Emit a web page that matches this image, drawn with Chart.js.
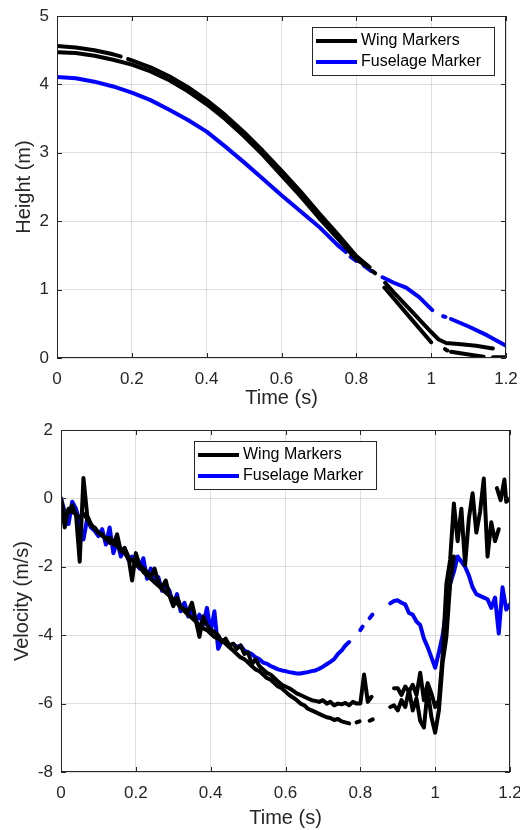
<!DOCTYPE html>
<html>
<head>
<meta charset="utf-8">
<script src="https://cdn.jsdelivr.net/npm/chart.js@4.4.0/dist/chart.umd.min.js"></script>
<style>
  html, body { margin: 0; padding: 0; background: #fff; }
  #wrap { position: relative; width: 520px; height: 830px; }
  canvas { position: absolute; left: 0; }
</style>
</head>
<body>
<div id="wrap">
  <canvas id="heightChart" width="520" height="410" style="top:0"></canvas>
  <canvas id="velocityChart" width="520" height="420" style="top:410px"></canvas>
</div>
<script>
// ---- height vs time (top panel) ----
const tHtWingA = [0, 0.05, 0.1, 0.15, 0.17, 0.178, 0.19, 0.2, 0.25, 0.3, 0.35, 0.4, 0.45, 0.5, 0.55, 0.6, 0.65, 0.7, 0.75, 0.8,
  0.835, 0.84, 0.843, 0.85, 0.86, 0.877, 0.9, 0.95, 1.0, 1.02, 1.04, 1.08, 1.12, 1.165];
const hWingA = [4.56, 4.54, 4.50, 4.44, 4.41, null, 4.37, 4.35, 4.25, 4.12, 3.96, 3.77, 3.55, 3.30, 3.03, 2.74, 2.44, 2.12, 1.81, 1.49,
  1.33, null, 1.27, 1.24, null, 1.10, 0.96, 0.67, 0.38, 0.27, 0.22, 0.20, 0.18, 0.14];

const tHtWingB = [0, 0.05, 0.1, 0.15, 0.2, 0.25, 0.3, 0.35, 0.4, 0.45, 0.5, 0.55, 0.6, 0.65, 0.7, 0.75, 0.8, 0.835,
  0.85, 0.875, 0.9, 0.95, 1.0, 1.02, 1.037, 1.043, 1.048, 1.053, 1.1, 1.14, 1.15, 1.165, 1.2];
const hWingB = [4.47, 4.46, 4.42, 4.36, 4.29, 4.19, 4.06, 3.90, 3.71, 3.49, 3.24, 2.97, 2.67, 2.37, 2.05, 1.75, 1.44, 1.32,
  null, 1.03, 0.87, 0.55, 0.23, null, 0.13, 0.11, null, 0.09, 0.05, 0.02, null, 0.01, 0.01];

const tHtFuse = [0, 0.05, 0.1, 0.15, 0.2, 0.25, 0.3, 0.35, 0.4, 0.45, 0.5, 0.55, 0.6, 0.65, 0.7, 0.75,
  0.772, 0.778, 0.785, 0.80, 0.81, 0.82, 0.84, 0.855, 0.87, 0.9, 0.933, 0.968, 1.003, 1.02, 1.032, 1.038, 1.045, 1.053, 1.1, 1.15, 1.2];
const hFuse = [4.11, 4.09, 4.04, 3.97, 3.88, 3.77, 3.63, 3.48, 3.31, 3.09, 2.86, 2.62, 2.38, 2.15, 1.92, 1.65,
  1.55, null, 1.48, 1.42, null, 1.35, 1.27, null, 1.18, 1.10, 1.03, 0.89, 0.70, null, 0.61, 0.60, null, 0.57, 0.46, 0.33, 0.18];

// ---- velocity vs time (bottom panel) ----
const tVelWingA = [
  0.00, 0.01, 0.02, 0.03, 0.04, 0.05, 0.06, 0.07, 0.08, 0.09,
  0.10, 0.11, 0.12, 0.13, 0.14, 0.15, 0.16, 0.17, 0.18, 0.19,
  0.20, 0.21, 0.22, 0.23, 0.24, 0.25, 0.26, 0.27, 0.28, 0.29,
  0.30, 0.31, 0.32, 0.33, 0.34, 0.35, 0.36, 0.37, 0.38, 0.39,
  0.40, 0.41, 0.42, 0.43, 0.44, 0.45, 0.46, 0.47, 0.48, 0.49,
  0.50, 0.51, 0.52, 0.53, 0.54, 0.55, 0.56, 0.57, 0.58, 0.59,
  0.60, 0.61, 0.62, 0.63, 0.64, 0.65, 0.66, 0.67, 0.68, 0.69,
  0.70, 0.71, 0.72, 0.73, 0.74, 0.75, 0.76, 0.77, 0.78, 0.79,
  0.80, 0.81, 0.82, 0.83,
  0.86,
  0.89, 0.90, 0.91, 0.92, 0.93, 0.94, 0.95, 0.96, 0.97, 0.98,
  0.99, 1.00, 1.01, 1.02, 1.03, 1.04, 1.05, 1.06, 1.07, 1.08,
  1.09, 1.10, 1.11, 1.12, 1.13, 1.14, 1.15, 1.16, 1.17];
const vWingA = [
  0.00, -0.85, -0.30, -0.40, -0.45, -1.85, 0.60, -0.50, -0.75, -0.90,
  -1.00, -1.05, -1.20, -1.15, -1.35, -1.05, -1.55, -1.45, -1.70, -2.40,
  -1.60, -1.95, -2.05, -2.15, -2.30, -2.05, -2.45, -2.60, -2.40, -2.85,
  -3.15, -2.90, -3.15, -3.25, -3.30, -3.05, -3.55, -4.05, -3.45, -3.70,
  -3.85, -3.90, -4.00, -4.20, -4.10, -4.30, -4.25, -4.40, -4.30, -4.55,
  -4.50, -4.85, -4.70, -4.90, -5.00, -5.10, -5.15, -5.25, -5.35, -5.45,
  -5.50, -5.55, -5.62, -5.70, -5.75, -5.80, -5.85, -5.90, -5.92, -5.95,
  -5.90, -6.00, -5.95, -6.05, -6.00, -6.02, -5.98, -6.05, -5.95, -6.00,
  -6.00, -5.15, -5.95, -5.80,
  null,
  -5.55, -5.55, -5.75, -5.50, -5.65, -5.45, -5.75, -5.10, -5.90, -5.40,
  -5.70, -6.10, -5.90, -4.60, -2.50, -1.80, -0.15, -1.25, -0.30, -1.95,
  -0.60, 0.15, -1.00, -0.40, 0.58, -1.70, -0.70, -1.25, -0.90];

const tVelWingB = [
  0.00, 0.01, 0.02, 0.03, 0.04, 0.05, 0.06, 0.07, 0.08, 0.09,
  0.10, 0.11, 0.12, 0.13, 0.14, 0.15, 0.16, 0.17, 0.18, 0.19,
  0.20, 0.21, 0.22, 0.23, 0.24, 0.25, 0.26, 0.27, 0.28, 0.29,
  0.30, 0.31, 0.32, 0.33, 0.34, 0.35, 0.36, 0.37, 0.38, 0.39,
  0.40, 0.41, 0.42, 0.43, 0.44, 0.45, 0.46, 0.47, 0.48, 0.49,
  0.50, 0.51, 0.52, 0.53, 0.54, 0.55, 0.56, 0.57, 0.58, 0.59,
  0.60, 0.61, 0.62, 0.63, 0.64, 0.65, 0.66, 0.67, 0.68, 0.69,
  0.70, 0.71, 0.72, 0.73, 0.74, 0.75, 0.76, 0.77,
  0.78, 0.79, 0.798, 0.81, 0.825, 0.833, 0.85,
  0.88, 0.89, 0.90, 0.91, 0.92, 0.93, 0.94, 0.95, 0.96, 0.97,
  0.98, 0.99, 1.00, 1.01, 1.02, 1.03, 1.04, 1.05,
  1.10, 1.165, 1.175, 1.185, 1.19, 1.20];
const vWingB = [
  -0.05, -0.50, -0.40, -0.20, -0.50, -0.55, -0.45, -0.60, -0.80, -0.85,
  -1.00, -1.10, -1.15, -1.30, -1.25, -1.40, -1.50, -1.60, -1.75, -1.80,
  -1.95, -2.00, -2.15, -2.25, -2.35, -2.45, -2.55, -2.65, -2.75, -2.85,
  -2.95, -3.05, -3.20, -3.30, -3.40, -3.50, -3.60, -3.70, -3.80, -3.85,
  -3.95, -4.05, -4.10, -4.15, -4.25, -4.35, -4.45, -4.55, -4.65, -4.70,
  -4.80, -4.90, -5.00, -5.05, -5.15, -5.25, -5.30, -5.40, -5.50, -5.55,
  -5.65, -5.75, -5.82, -5.90, -6.00, -6.05, -6.15, -6.20, -6.25, -6.30,
  -6.35, -6.40, -6.42, -6.48, -6.45, -6.52, -6.55, -6.58,
  null, -6.55, -6.52, null, -6.50, -6.46, null,
  -6.10, -6.05, -6.20, -5.90, -6.10, -5.60, -6.20, -5.85, -6.50, -6.70,
  -5.60, -6.40, -6.85, -6.20, -4.80, -4.05, -2.50, -1.70,
  null, 0.30, -0.05, 0.55, -0.10, 0.00];

const tVelFuse = [
  0.00, 0.01, 0.02, 0.03, 0.04, 0.05, 0.06, 0.07, 0.08, 0.09,
  0.10, 0.11, 0.12, 0.13, 0.14, 0.15, 0.16, 0.17, 0.18, 0.19,
  0.20, 0.21, 0.22, 0.23, 0.24, 0.25, 0.26, 0.27, 0.28, 0.29,
  0.30, 0.31, 0.32, 0.33, 0.34, 0.35, 0.36, 0.37, 0.38, 0.39,
  0.40, 0.41, 0.42, 0.43, 0.44, 0.45, 0.46, 0.47, 0.48, 0.49,
  0.50, 0.51, 0.52, 0.53, 0.54, 0.55, 0.56, 0.57, 0.58, 0.59,
  0.60, 0.61, 0.62, 0.63, 0.64, 0.65, 0.66, 0.67, 0.68, 0.69,
  0.70, 0.71, 0.72, 0.73, 0.74, 0.75, 0.76, 0.77,
  0.785, 0.80, 0.806, 0.815, 0.825, 0.832, 0.85,
  0.88, 0.89, 0.90, 0.91, 0.92, 0.93, 0.94, 0.95, 0.96, 0.97,
  0.98, 0.99, 1.00, 1.01, 1.02, 1.03, 1.04, 1.05, 1.06, 1.07,
  1.08, 1.09, 1.10, 1.11, 1.12, 1.13, 1.14, 1.15, 1.16, 1.17,
  1.18, 1.19, 1.20];
const vFuse = [
  0.00, -0.40, -0.75, -0.10, -0.30, -0.70, -1.20, -0.60, -0.85, -0.95,
  -1.10, -0.90, -1.35, -0.85, -1.60, -1.25, -1.70, -1.45, -1.80, -1.70,
  -1.90, -2.05, -1.75, -2.35, -2.05, -2.45, -2.30, -2.70, -2.55, -2.70,
  -3.10, -2.80, -3.30, -3.05, -3.45, -3.25, -3.60, -3.40, -3.70, -3.20,
  -3.90, -3.30, -4.40, -4.15, -4.20, -4.30, -4.25, -4.35, -4.30, -4.45,
  -4.50, -4.55, -4.65, -4.70, -4.80, -4.83, -4.90, -4.95, -5.00, -5.03,
  -5.05, -5.08, -5.10, -5.12, -5.12, -5.10, -5.08, -5.05, -5.03, -4.98,
  -4.92, -4.85, -4.78, -4.70, -4.55, -4.45, -4.30, -4.20,
  null, -3.85, -3.75, null, -3.50, -3.40, null,
  -3.07, -3.00, -2.98, -3.05, -3.10, -3.35, -3.40, -3.60, -3.70, -4.10,
  -4.35, -4.65, -4.95, -4.50, -4.00, -3.20, -2.50, -2.15, -1.70, -1.85,
  -2.00, -2.25, -2.60, -2.80, -2.85, -2.90, -2.95, -3.20, -2.90, -3.95,
  -2.60, -3.25, -3.10];

const legendLabels = ['Wing Markers', 'Fuselage Marker'];
const legendSource = [0, 2];

const FONT = "'Liberation Sans', Arial, sans-serif";
const INK = '#262626';
const GRID = 'rgba(38,38,38,0.15)';

function lineSet(label, ts, vs, color) {
  return {
    label: label,
    data: ts.map((t, i) => ({ x: t, y: vs[i] })),
    borderColor: color,
    backgroundColor: color,
    borderWidth: 4,
    pointRadius: 0,
    tension: 0,
    spanGaps: false,
    borderCapStyle: 'round',
    borderJoinStyle: 'round'
  };
}

// box round the plot with small inward ticks, like matlab
const axisBox = {
  id: 'axisBox',
  afterDatasetsDraw(chart) {
    const { ctx, chartArea: a, scales } = chart;
    ctx.save();
    ctx.strokeStyle = INK;
    ctx.lineWidth = 1;
    ctx.strokeRect(a.left + 0.5, a.top + 0.5, a.right - a.left - 1, a.bottom - a.top - 1);
    ctx.beginPath();
    scales.x.ticks.forEach(t => {
      const px = Math.round(scales.x.getPixelForValue(t.value)) + 0.5;
      ctx.moveTo(px, a.bottom); ctx.lineTo(px, a.bottom - 5);
      ctx.moveTo(px, a.top); ctx.lineTo(px, a.top + 5);
    });
    scales.y.ticks.forEach(t => {
      const py = Math.round(scales.y.getPixelForValue(t.value)) + 0.5;
      ctx.moveTo(a.left, py); ctx.lineTo(a.left + 5, py);
      ctx.moveTo(a.right, py); ctx.lineTo(a.right - 5, py);
    });
    ctx.stroke();
    ctx.restore();
  }
};

const boxLegend = {
  id: 'boxLegend',
  afterDraw(chart, args, opts) {
    const { ctx, chartArea: a } = chart;
    const w = 182, h = 48;
    const left = opts.anchor === 'right' ? a.right - opts.dx - w : a.left + opts.dx;
    const top = a.top + opts.dy;
    ctx.save();
    ctx.fillStyle = '#fff';
    ctx.fillRect(left, top, w, h);
    ctx.strokeStyle = INK;
    ctx.lineWidth = 1;
    ctx.strokeRect(left + 0.5, top + 0.5, w, h);
    legendLabels.forEach((txt, i) => {
      const ds = chart.data.datasets[legendSource[i]];
      const y = top + 14 + i * 21;
      ctx.strokeStyle = ds.borderColor;
      ctx.lineWidth = 4;
      ctx.beginPath();
      ctx.moveTo(left + 4, y);
      ctx.lineTo(left + 45, y);
      ctx.stroke();
      ctx.fillStyle = '#000';
      ctx.font = '16px ' + FONT;
      ctx.textAlign = 'left';
      ctx.textBaseline = 'middle';
      ctx.fillText(txt, left + 49, y);
    });
    ctx.restore();
  }
};

function makeChart(id, datasets, cfg) {
  return new Chart(document.getElementById(id), {
    type: 'line',
    data: { datasets: datasets },
    options: {
      responsive: false,
      animation: false,
      layout: { padding: cfg.padding },
      plugins: {
        legend: { display: false },
        tooltip: { enabled: false },
        boxLegend: cfg.legend
      },
      scales: {
        x: {
          type: 'linear', min: 0, max: 1.2,
          grid: { color: GRID, drawTicks: false },
          border: { display: false },
          ticks: {
            stepSize: 0.2, padding: 11, color: INK,
            font: { family: FONT, size: 17 },
            callback: v => String(Math.round(v * 10) / 10)
          },
          title: { display: true, text: 'Time (s)', color: INK, font: { family: FONT, size: 20 }, padding: { top: 0, bottom: 0 } },
          afterFit: s => { s.height = cfg.xHeight; s.paddingLeft = 0; s.paddingRight = 0; }
        },
        y: {
          type: 'linear', min: cfg.yMin, max: cfg.yMax,
          grid: { color: GRID, drawTicks: false },
          border: { display: false },
          ticks: {
            stepSize: cfg.yStep, padding: 8, color: INK,
            font: { family: FONT, size: 17 }
          },
          title: { display: true, text: cfg.yTitle, color: INK, font: { family: FONT, size: 20 }, padding: { top: cfg.yTitlePad, bottom: 0 } },
          afterFit: s => { s.width = cfg.yWidth; s.paddingTop = 0; s.paddingBottom = 0; }
        }
      }
    },
    plugins: [axisBox, boxLegend]
  });
}

makeChart('heightChart', [
  lineSet('Wing Markers', tHtWingA, hWingA, '#000000'),
  lineSet('Wing Markers', tHtWingB, hWingB, '#000000'),
  lineSet('Fuselage Marker', tHtFuse, hFuse, '#0000ff')
], {
  padding: { left: 0, right: 14, top: 16, bottom: 0 },
  xHeight: 52, yWidth: 57,
  yMin: 0, yMax: 5, yStep: 1, yTitle: 'Height (m)', yTitlePad: 12,
  legend: { anchor: 'right', dx: 12, dy: 11 }
});

makeChart('velocityChart', [
  lineSet('Wing Markers', tVelWingA, vWingA, '#000000'),
  lineSet('Wing Markers', tVelWingB, vWingB, '#000000'),
  lineSet('Fuselage Marker', tVelFuse, vFuse, '#0000ff')
], {
  padding: { left: 0, right: 10, top: 20, bottom: 0 },
  xHeight: 58, yWidth: 61,
  yMin: -8, yMax: 2, yStep: 2, yTitle: 'Velocity (m/s)', yTitlePad: 10,
  legend: { anchor: 'left', dx: 133, dy: 11 }
});
</script>
</body>
</html>
